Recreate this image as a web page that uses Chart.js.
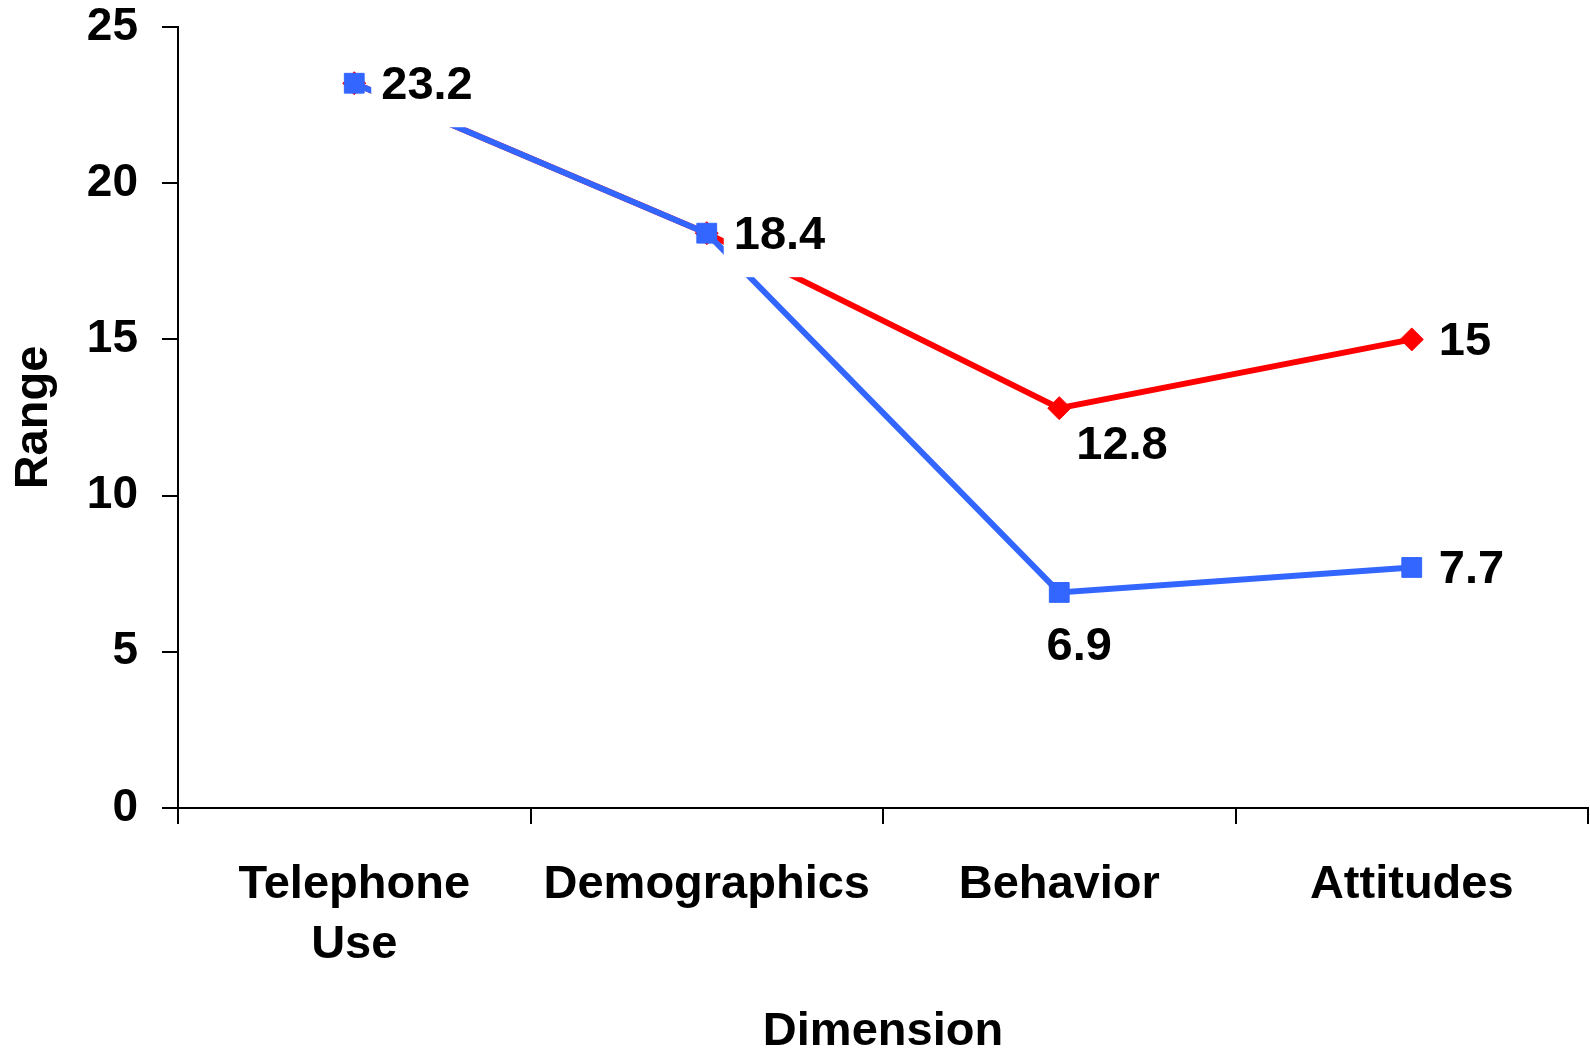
<!DOCTYPE html>
<html>
<head>
<meta charset="utf-8">
<script src="https://cdn.jsdelivr.net/npm/chart.js@4/dist/chart.umd.min.js"></script>
<style>
  html, body { margin: 0; padding: 0; background: #fff; }
  canvas { display: block; }
</style>
</head>
<body>
<canvas id="chart" width="1590" height="1053"></canvas>
<script>
const categories = [['Telephone', 'Use'], 'Demographics', 'Behavior', 'Attitudes'];
const redRange = [23.2, 18.4, 12.8, 15];
const blueRange = [23.2, 18.4, 6.9, 7.7];
const yTickValues = [0, 5, 10, 15, 20, 25];

const FONT = '"Liberation Sans", Arial, Helvetica, sans-serif';
const RED = '#FF0000';
const BLUE = '#3366FF';

// Where each value label sits relative to its point (null = no label)
const labelSpots = {
  blue: ['right', 'right', 'below', 'right'],
  red: [null, null, 'belowRight', 'right']
};

// Value labels in white boxes, drawn over the lines
const valueLabels = {
  id: 'valueLabels',
  afterDatasetsDraw(chart) {
    const ctx = chart.ctx;
    const size = 47;
    ctx.save();
    ctx.font = `bold ${size}px ${FONT}`;
    ctx.textBaseline = 'alphabetic';
    ctx.textAlign = 'left';
    chart.data.datasets.forEach((ds, di) => {
      const spots = labelSpots[ds.key];
      const meta = chart.getDatasetMeta(di);
      ds.data.forEach((v, i) => {
        const spot = spots[i];
        if (!spot) return;
        const pt = meta.data[i];
        const text = String(v);
        const w = ctx.measureText(text).width;
        let x, y;
        if (spot === 'right') { x = pt.x + 27; y = pt.y + 16; }
        else if (spot === 'below') { x = pt.x + 20 - w / 2; y = pt.y + 68; }
        else { x = pt.x + 17; y = pt.y + 51; }
        const cap = size * 0.72;
        ctx.fillStyle = '#fff';
        ctx.fillRect(x - 10, y - cap - 4, w + 20, cap + 4 + 28);
        ctx.fillStyle = '#000';
        ctx.fillText(text, x, y);
      });
    });
    ctx.restore();
  }
};

const boldFont = (size, lineHeight) => ({ family: FONT, size, weight: 'bold', lineHeight });

// Let the layout padding alone decide the plot edges
function clearScalePadding(scale) {
  scale.paddingTop = 0;
  scale.paddingBottom = 0;
  scale.paddingLeft = 0;
  scale.paddingRight = 0;
}

new Chart(document.getElementById('chart'), {
  type: 'line',
  data: {
    labels: categories,
    datasets: [
      {
        key: 'blue',
        data: blueRange,
        borderColor: BLUE,
        backgroundColor: BLUE,
        borderWidth: 6,
        pointStyle: 'rect',
        pointRadius: 14,
        pointBorderWidth: 1,
        pointBackgroundColor: BLUE,
        pointBorderColor: BLUE,
        tension: 0,
        fill: false
      },
      {
        key: 'red',
        data: redRange,
        borderColor: RED,
        backgroundColor: RED,
        borderWidth: 6,
        pointStyle: 'rectRot',
        pointRadius: 11.5,
        pointBorderWidth: 1,
        pointBackgroundColor: RED,
        pointBorderColor: RED,
        tension: 0,
        fill: false
      }
    ]
  },
  options: {
    responsive: false,
    animation: false,
    devicePixelRatio: 1,
    layout: { autoPadding: false, padding: { top: 27, right: 2, left: 0, bottom: 0 } },
    plugins: {
      legend: { display: false },
      tooltip: { enabled: false }
    },
    scales: {
      x: {
        offset: true,
        grid: { offset: true, drawOnChartArea: false, drawTicks: true, tickLength: 16, color: '#000', lineWidth: 2 },
        border: { color: '#000', width: 2 },
        ticks: { color: '#000', font: boldFont(47, 1.28), padding: 31, maxRotation: 0, autoSkip: false },
        title: { display: true, text: 'Dimension', color: '#000', font: boldFont(47, 1.0), padding: { top: 0, bottom: -3 } },
        afterFit(scale) { scale.height = 245; clearScalePadding(scale); }
      },
      y: {
        min: 0,
        max: 25,
        afterBuildTicks(scale) { scale.ticks = yTickValues.map(v => ({ value: v })); },
        grid: { drawOnChartArea: false, drawTicks: true, tickLength: 16, color: '#000', lineWidth: 2 },
        border: { color: '#000', width: 2 },
        ticks: { color: '#000', font: boldFont(46, 1.2), padding: 24 },
        title: { display: true, text: 'Range', color: '#000', font: boldFont(47, 1.0), padding: { top: 11, bottom: 0 } },
        afterFit(scale) { scale.width = 178; clearScalePadding(scale); }
      }
    }
  },
  plugins: [valueLabels]
});
</script>
</body>
</html>
